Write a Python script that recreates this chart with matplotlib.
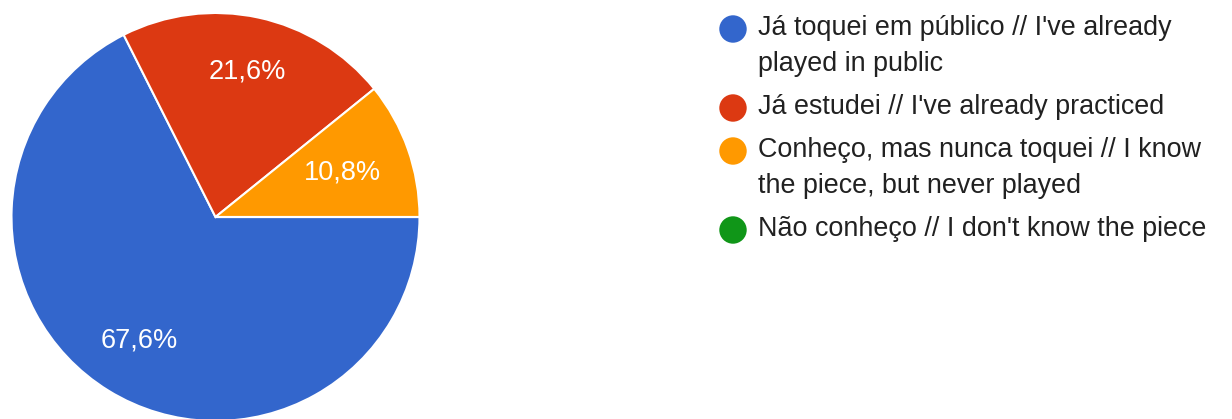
import matplotlib
matplotlib.use("Agg")
import matplotlib.pyplot as plt
import numpy as np

plt.rcParams['font.family'] = ['Liberation Sans', 'DejaVu Sans']

# responses (out of 37)
labels = ["Já toquei em público // I've already\nplayed in public",
          "Já estudei // I've already practiced",
          "Conheço, mas nunca toquei // I know\nthe piece, but never played",
          "Não conheço // I don't know the piece"]
counts = [25, 8, 4, 0]
colors = ['#3366cc', '#dc3912', '#ff9900', '#109618']
label_dist = [0.71, 0.73, 0.66, 0.7]

W, H = 1232, 419
fig = plt.figure(figsize=(W / 100, H / 100), dpi=100)

# pie axes placed in pixel units
cx, cy, r = 215.5, 217, 204
ax = fig.add_axes([(cx - r) / W, (H - cy - r) / H, 2 * r / W, 2 * r / H])
wedges, _ = ax.pie(counts, colors=colors, startangle=0, counterclock=False,
                   radius=1, wedgeprops=dict(edgecolor='white', linewidth=1.5))
ax.set_xlim(-1, 1)
ax.set_ylim(-1, 1)
ax.set_aspect('equal')
ax.axis('off')

total = sum(counts)
for w, c, d in zip(wedges, counts, label_dist):
    if c == 0:
        continue
    ang = np.deg2rad((w.theta1 + w.theta2) / 2)
    pct = f"{100 * c / total:.1f}".replace('.', ',') + '%'
    ax.text(d * np.cos(ang), d * np.sin(ang), pct, color='white',
            fontsize=19.5, ha='center', va='center')

# legend drawn by hand so marker sits on first line
lax = fig.add_axes([0, 0, 1, 1])
lax.set_xlim(0, W)
lax.set_ylim(H, 0)
lax.axis('off')
y = 28
line_h = 36
gap = 43
for lab, col in zip(labels, colors):
    lax.scatter([733], [y + 1], s=390, color=col, edgecolors='none')
    lines = lab.split('\n')
    for i, ln in enumerate(lines):
        lax.text(758, y + i * line_h, ln, fontsize=19.4, color='#212121',
                 va='center', ha='left')
    y += (len(lines) - 1) * line_h + gap

fig.savefig('out.png', dpi=100)
